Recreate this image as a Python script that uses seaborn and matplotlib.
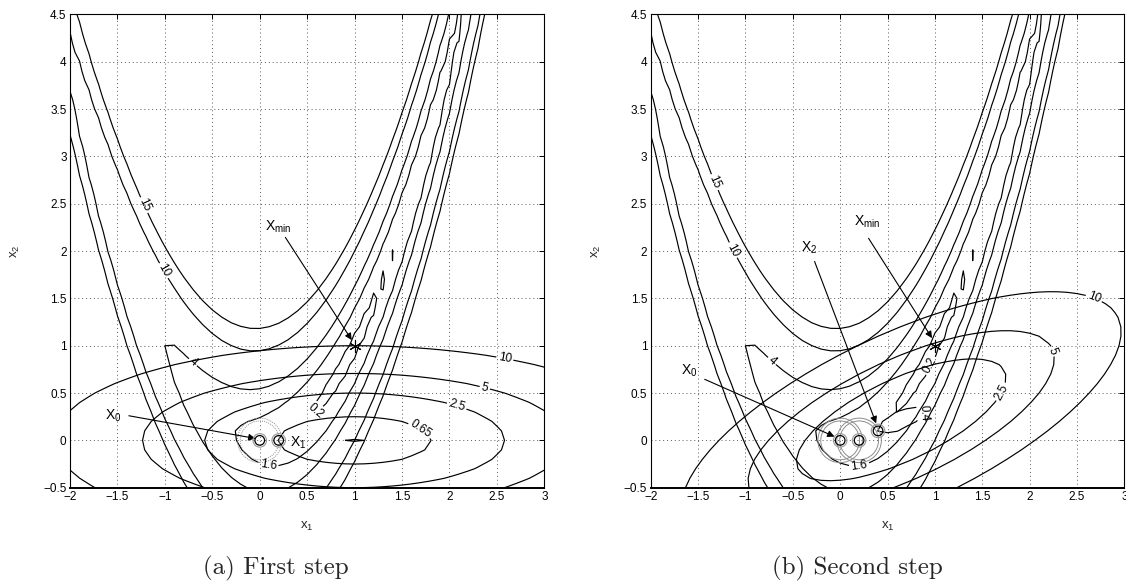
import numpy as np
import pandas as pd
import matplotlib
matplotlib.use("Agg")
import matplotlib.pyplot as plt
from matplotlib.patches import Circle
import seaborn as sns

# Objective: f(x) = A * (x2 - x1^2)^2 + (1 - x1)^2, sampled on a coarse mesh
A_COEF = 10.0
X1_GRID = np.linspace(-2.0, 3.0, 51)
X2_GRID = np.linspace(-0.5, 4.5, 51)

F_LEVELS = [0.2, 1.6, 4, 10, 15]
MODEL_LEVELS_FIRST = [0.01, 0.65, 2.5, 5, 10]
MODEL_LEVELS_SECOND = [0.4, 2.5, 5, 10]

# Iterates x0, x1, x2 and the minimiser
ITER_X1 = [0.0, 0.2, 0.4]
ITER_X2 = [0.0, 0.0, 0.1]
X_MIN = (1.0, 1.0)
TRUST_RINGS = [0.205, 0.235]

X_TICKS = [-2, -1.5, -1, -0.5, 0, 0.5, 1, 1.5, 2, 2.5, 3]
Y_TICKS = [-0.5, 0, 0.5, 1, 1.5, 2, 2.5, 3, 3.5, 4, 4.5]
CAPTIONS = ["(a) First step", "(b) Second step"]

# Where the inline contour labels sit
F_LABEL_POS = [
    [(-1.21, 2.49), (-1.0, 1.80), (-0.70, 0.83), (0.086, -0.28), (0.57, 0.31)],
    [(-1.32, 2.73), (-1.13, 2.01), (-0.71, 0.85), (0.205, -0.28), (0.93, 0.80)],
]
MODEL_LABEL_POS = [
    [(2.59, 0.90), (2.38, 0.585), (2.08, 0.374), (1.685, 0.09)],
    [(2.70, 1.57), (2.30, 0.96), (1.73, 0.50), (0.89, 0.29)],
]


def objective(x1, x2):
    return A_COEF * (x2 - x1 ** 2) ** 2 + (1.0 - x1) ** 2


def gradient(x1, x2):
    return np.array([-4.0 * A_COEF * x1 * (x2 - x1 ** 2) - 2.0 * (1.0 - x1),
                     2.0 * A_COEF * (x2 - x1 ** 2)])


def hessian(x1, x2):
    return np.array([[-4.0 * A_COEF * x2 + 12.0 * A_COEF * x1 ** 2 + 2.0, -4.0 * A_COEF * x1],
                     [-4.0 * A_COEF * x1, 2.0 * A_COEF]])


def quad_model(c1, c2, P1, P2):
    g = gradient(c1, c2)
    H = hessian(c1, c2)
    d1, d2 = P1 - c1, P2 - c2
    return (objective(c1, c2) + g[0] * d1 + g[1] * d2
            + 0.5 * (H[0, 0] * d1 ** 2 + 2 * H[0, 1] * d1 * d2 + H[1, 1] * d2 ** 2))


sns.set_style("white")
plt.rcParams["font.family"] = ["Liberation Sans", "DejaVu Sans"]
plt.rcParams["mathtext.fontset"] = "custom"
plt.rcParams["mathtext.rm"] = "Liberation Sans"
plt.rcParams["mathtext.it"] = "Liberation Sans"

P1, P2 = np.meshgrid(X1_GRID, X2_GRID)
F = objective(P1, P2)

fig = plt.figure(figsize=(11.26, 5.81), dpi=100)
ax_pos = [[0.0622, 0.1606, 0.4212, 0.8145], [0.5779, 0.1606, 0.4206, 0.8145]]
caption_x = [276 / 1126, 857 / 1126]

arrow_kw = dict(arrowstyle="-|>", color="black", lw=0.8, mutation_scale=10,
                shrinkA=0, shrinkB=0)
text_kw = dict(fontsize=10, color="black")
LABEL_FS = 8.5

for k in range(2):
    ax = fig.add_axes(ax_pos[k])
    ax.set_xlim(-2, 3)
    ax.set_ylim(-0.5, 4.5)
    ax.set_xticks(X_TICKS)
    ax.set_yticks(Y_TICKS)
    ax.set_xticklabels([f"{t:g}".replace("-", "\u2212") for t in X_TICKS])
    ax.set_yticklabels([f"{t:g}".replace("-", "\u2212") for t in Y_TICKS])
    ax.tick_params(direction="in", length=3.5, width=0.7, labelsize=LABEL_FS, pad=2.5,
                   top=True, right=True, colors="black")
    ax.grid(True, color="0.35", lw=0.7, linestyle=(0, (1, 3)))
    for side, sp in ax.spines.items():
        sp.set_color("black")
        sp.set_linewidth(1.4 if side == "bottom" else 0.8)

    # objective contours
    cs_f = ax.contour(P1, P2, F, levels=F_LEVELS, colors="black", linewidths=0.85)
    ax.clabel(cs_f, manual=F_LABEL_POS[k], fmt="%g", fontsize=LABEL_FS,
              inline=True, inline_spacing=2)

    # quadratic model around the current iterate
    M = quad_model(ITER_X1[k], ITER_X2[k], P1, P2)
    m_levels = MODEL_LEVELS_FIRST if k == 0 else MODEL_LEVELS_SECOND
    cs_m = ax.contour(P1, P2, M, levels=m_levels, colors="black", linewidths=0.85)
    ax.clabel(cs_m, manual=MODEL_LABEL_POS[k], fmt="%g", fontsize=LABEL_FS,
              inline=True, inline_spacing=2)

    # trust regions
    n_regions = 1 if k == 0 else 2
    for j in range(n_regions):
        for r in TRUST_RINGS:
            ax.add_patch(Circle((ITER_X1[j], ITER_X2[j]), r, fill=False,
                                edgecolor="0.55", lw=0.7,
                                linestyle=(0, (1, 1.2)) if k == 0 else "-",
                                zorder=3))

    # iterates
    pts = pd.DataFrame({"x1": ITER_X1[:k + 2], "x2": ITER_X2[:k + 2]})
    sns.scatterplot(data=pts, x="x1", y="x2", ax=ax, marker="o", s=95,
                    facecolor="none", edgecolor="0.6", linewidth=0.8, zorder=4)
    sns.scatterplot(data=pts, x="x1", y="x2", ax=ax, marker="o", s=48,
                    facecolor="none", edgecolor="black", linewidth=0.9, zorder=5)
    ax.plot([X_MIN[0]], [X_MIN[1]], marker=(6, 2, 0), ms=9, color="black",
            mew=0.8, zorder=5)
    ax.set_xlabel(r"$\mathregular{x_1}$", fontsize=9.5, labelpad=12)
    ax.set_ylabel(r"$\mathregular{x_2}$", fontsize=9.5, labelpad=15)

    if k == 0:
        ax.text(-1.635, 0.22, r"$\mathregular{X_0}$", **text_kw)
        ax.annotate("", xy=(-0.045, 0.02), xytext=(-1.38, 0.26), arrowprops=arrow_kw)
        ax.text(0.32, -0.067, r"$\mathregular{X_1}$", **text_kw)
        ax.text(0.056, 2.22, r"$\mathregular{X_{min}}$", **text_kw)
        ax.annotate("", xy=(0.97, 1.06), xytext=(0.27, 2.145), arrowprops=arrow_kw)
    else:
        ax.text(-1.68, 0.69, r"$\mathregular{X_0}$", **text_kw)
        ax.annotate("", xy=(-0.06, 0.04), xytext=(-1.43, 0.645), arrowprops=arrow_kw)
        ax.text(-0.41, 1.99, r"$\mathregular{X_2}$", **text_kw)
        ax.annotate("", xy=(0.38, 0.18), xytext=(-0.27, 1.89), arrowprops=arrow_kw)
        ax.text(0.15, 2.265, r"$\mathregular{X_{min}}$", **text_kw)
        ax.annotate("", xy=(0.97, 1.08), xytext=(0.30, 2.135), arrowprops=arrow_kw)

    fig.text(caption_x[k], 1 - 568 / 581, CAPTIONS[k], family="cmr10",
             fontsize=18, ha="center", va="center")

fig.savefig("out.png", dpi=100)
